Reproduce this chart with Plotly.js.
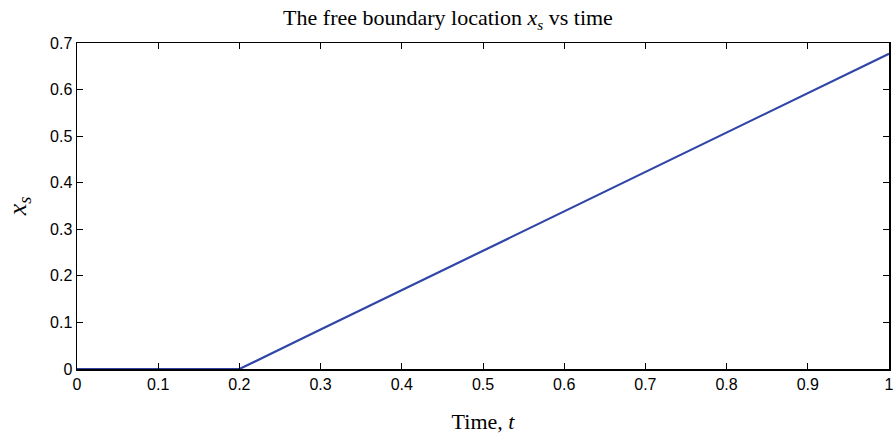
<!DOCTYPE html>
<html>
<head>
<meta charset="utf-8">
<script src="https://cdn.plot.ly/plotly-3.0.1.min.js"></script>
<style>html,body{margin:0;padding:0;background:#fff}#chart{width:896px;height:436px}</style>
</head>
<body>
<div id="chart"></div>
<script>
var time = [0, 0.1, 0.2, 0.3, 0.4, 0.5, 0.6, 0.7, 0.8, 0.9, 1.0];
var xs = [0, 0, 0, 0.0846, 0.1692, 0.2539, 0.3385, 0.4231, 0.5077, 0.5924, 0.677];
var xTicks = [0, 0.1, 0.2, 0.3, 0.4, 0.5, 0.6, 0.7, 0.8, 0.9, 1];
var yTicks = [0, 0.1, 0.2, 0.3, 0.4, 0.5, 0.6, 0.7];

var serif = 'Liberation Serif, DejaVu Serif, serif';
var sans = 'Liberation Sans, Arial, sans-serif';

var trace = {
  x: time, y: xs, type: 'scatter', mode: 'lines',
  line: {color: '#3045a8', width: 2.2}, hoverinfo: 'skip'
};

var axisCommon = {
  showgrid: false, zeroline: false, showline: true, linecolor: '#000', linewidth: 1.5,
  mirror: 'ticks', ticks: 'inside', ticklen: 6, tickwidth: 1, tickcolor: '#000',
  tickfont: {family: sans, size: 16, color: '#000'}
};

var layout = {
  width: 896, height: 436,
  margin: {l: 77, r: 7, t: 43, b: 67},
  paper_bgcolor: '#fff', plot_bgcolor: '#fff',
  showlegend: false,
  title: {text: 'The free boundary location <i>x</i><sub><i>s</i></sub> vs time',
          font: {family: serif, size: 22, color: '#000'}, x: 0.5, xanchor: 'center', y: 0.96, yanchor: 'middle'},
  xaxis: Object.assign({}, axisCommon, {
    range: [0, 1], tickvals: xTicks, ticktext: xTicks.map(String),
    title: {text: 'Time, <i>t</i>', font: {family: serif, size: 22, color: '#000'}, standoff: 22}
  }),
  yaxis: Object.assign({}, axisCommon, {
    range: [0, 0.7], tickvals: yTicks, ticktext: yTicks.map(String),
    title: {text: '<i>x</i><sub><i>s</i></sub>', font: {family: serif, size: 26, color: '#000'}, standoff: 16}
  })
};

Plotly.newPlot('chart', [trace], layout, {displayModeBar: false, staticPlot: true});
</script>
</body>
</html>
